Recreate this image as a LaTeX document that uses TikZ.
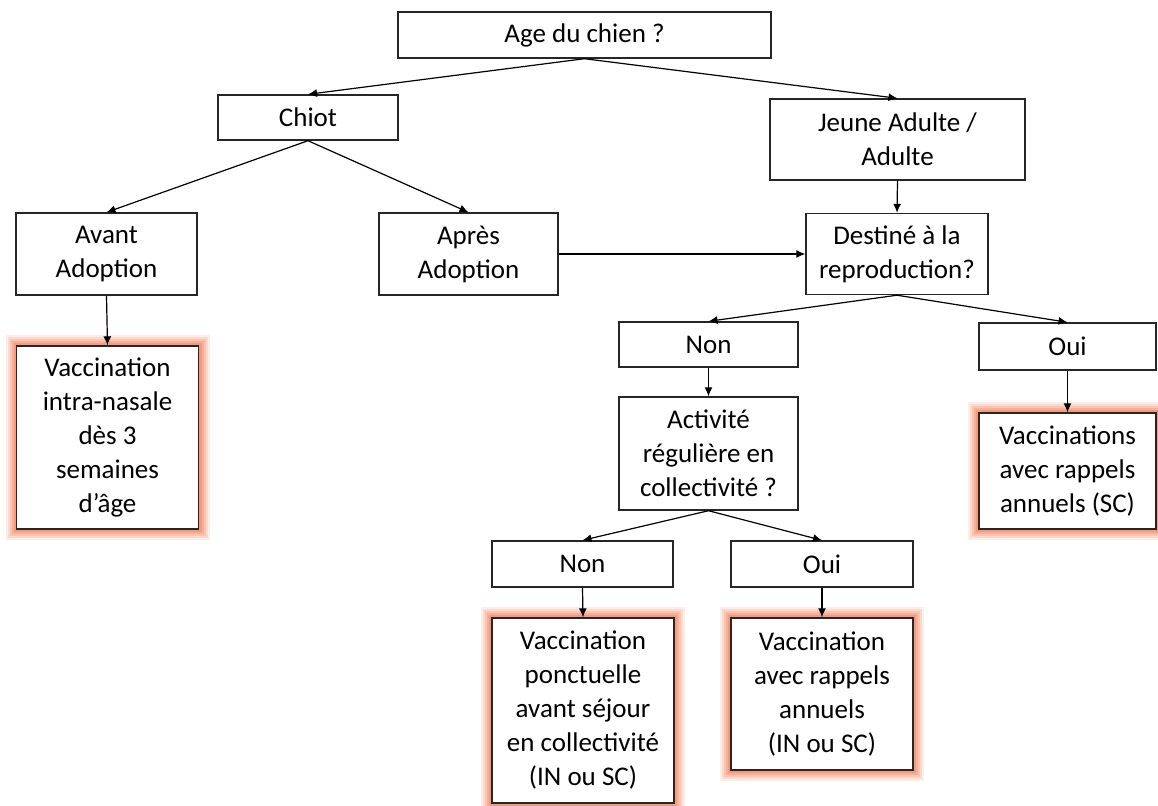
\documentclass[tikz,border=0pt]{standalone}
\usepackage{fontspec}
\setmainfont{Carlito}
\usetikzlibrary{arrows.meta}
\definecolor{glowc}{RGB}{242,130,92}
\tikzset{
  box/.style={draw=black!85, fill=white, line width=0.7pt, align=center, inner sep=0pt,
    font=\fontsize{13.5}{17}\selectfont},
  result/.style={box,
    preaction={draw=glowc, line width=11pt, opacity=.14, rounded corners=6pt},
    preaction={draw=glowc, line width=9pt, opacity=.18, rounded corners=5pt},
    preaction={draw=glowc, line width=7pt, opacity=.24, rounded corners=4pt},
    preaction={draw=glowc, line width=5pt, opacity=.32, rounded corners=3pt},
    preaction={draw=glowc, line width=3pt, opacity=.45, rounded corners=2pt}},
  link/.style={-{Latex[length=4.5pt,width=4pt]}, line width=0.6pt},
}
\begin{document}
\begin{tikzpicture}[x=0.5pt, y=-0.5pt]
        \useasboundingbox (0,0) rectangle (1158,805);
        % questions
        \node[box, minimum width=186.5pt, minimum height=23pt] (age) at (584.5,35) {Age du chien ?};
        \node[box, minimum width=90pt, minimum height=22.5pt] (chiot) at (308,117.5) {Chiot};
        \node[box, minimum width=127.5pt, minimum height=40.5pt] (adulte) at (897.5,139.5) {Jeune Adulte /\\Adulte};
        \node[box, minimum width=90.5pt, minimum height=41pt] (avant) at (106.5,254) {Avant\\Adoption};
        \node[box, minimum width=89.5pt, minimum height=41pt] (apres) at (468.5,254) {Après\\Adoption};
        \node[box, minimum width=91pt, minimum height=40.5pt] (repro) at (897,254) {Destiné à la\\reproduction?};
        \node[box, minimum width=89.5pt, minimum height=22.5pt] (non1) at (708.5,344.5) {Non};
        \node[box, minimum width=88.5pt, minimum height=23.5pt] (oui1) at (1067.5,346.5) {Oui};
        \node[box, minimum width=89.5pt, minimum height=56.5pt] (activ) at (708.5,453.5) {Activité\\régulière en\\collectivité ?};
        \node[box, minimum width=90.5pt, minimum height=23pt] (non2) at (582.5,564) {Non};
        \node[box, minimum width=91pt, minimum height=23pt] (oui2) at (822,564) {Oui};
        % vaccinations
        \node[result, minimum width=91pt, minimum height=91.5pt] (nasale) at (107.5,437.5) {Vaccination\\intra-nasale\\dès 3\\semaines\\d’âge};
        \node[result, minimum width=88.5pt, minimum height=58pt] (annuelsc) at (1067.5,471) {Vaccinations\\avec rappels\\annuels (SC)};
        \node[result, minimum width=91pt, minimum height=92.5pt] (ponct) at (583,710.5) {Vaccination\\ponctuelle\\avant séjour\\en collectivité\\(IN ou SC)};
        \node[result, minimum width=91pt, minimum height=76pt] (rappels) at (822,694) {Vaccination\\avec rappels\\annuels\\(IN ou SC)};
        % arrows
        \draw[link] (age.south) -- (chiot.north);
        \draw[link] (age.south) -- (adulte.north);
        \draw[link] (chiot.south) -- (avant.north);
        \draw[link] (chiot.south) -- (apres.north);
        \draw[link] (adulte.south) -- (repro.north);
        \draw[link] (apres.east) -- (repro.west);
        \draw[link] (avant.south) -- (nasale.north);
        \draw[link] (repro.south) -- (non1.north);
        \draw[link] (repro.south) -- (oui1.north);
        \draw[link] (non1.south) -- (activ.north);
        \draw[link] (oui1.south) -- (annuelsc.north);
        \draw[link] (activ.south) -- (non2.north);
        \draw[link] (activ.south) -- (oui2.north);
        \draw[link] (non2.south) -- (ponct.north);
        \draw[link] (oui2.south) -- (rappels.north);
\end{tikzpicture}
\end{document}
